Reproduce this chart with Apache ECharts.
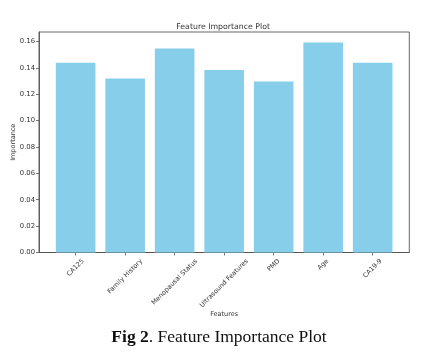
<!DOCTYPE html>
<html>
<head>
<meta charset="utf-8">
<script src="https://cdn.jsdelivr.net/npm/echarts@6/dist/echarts.min.js"></script>
<style>
html,body{margin:0;padding:0;background:#fff;}
#c{width:428px;height:363px;}
</style>
</head>
<body>
<div id="c"></div>
<script>
const categories = ['CA125', 'Family History', 'Menopausal Status', 'Ultrasound Features', 'PMD', 'Age', 'CA19-9'];
const importance = [0.1439, 0.1320, 0.1547, 0.1383, 0.1297, 0.1592, 0.1439];
const yTicks = [0, 0.02, 0.04, 0.06, 0.08, 0.10, 0.12, 0.14, 0.16];
const titleText = 'Feature Importance Plot';
const xName = 'Features';
const yName = 'Importance';
const captionBold = 'Fig 2';
const captionRest = '. Feature Importance Plot';

const W = 428, H = 363;
const gL = 39, gR = 18.7, gT = 32, gB = 110.5;
const xMin = -0.74, xMax = categories.length - 1 + 0.74;
const gridW = W - gL - gR;
const pxPerUnit = gridW / (xMax - xMin);
const barW = 0.8 * pxPerUnit;

const labelFont = 6.5;
const tickFont = 6.8;
const fontFam = '"DejaVu Sans"';
const cv = document.createElement('canvas').getContext('2d');
cv.font = labelFont + 'px ' + fontFam;
const rich = {};
categories.forEach((c, i) => {
  const w = cv.measureText(c).width;
  const h = 7.5;
  const p = 0.5 * (w + h);
  rich['r' + i] = {
    fontSize: labelFont, fontFamily: fontFam, color: '#333',
    padding: [p, p, 0, 0]
  };
});

const chart = echarts.init(document.getElementById('c'), null, {renderer: 'canvas'});
chart.setOption({
  backgroundColor: '#fff',
  animation: false,
  title: [
    {
      text: titleText, left: gL + gridW / 2 - 6, top: 18, textAlign: 'center',
      textStyle: {fontFamily: fontFam, fontSize: 7.8, fontWeight: 'normal', color: '#333'}
    },
    {
      text: '{b|' + captionBold + '}{n|' + captionRest + '}', left: 214, top: 323, textAlign: 'center',
      textStyle: {
        rich: {
          b: {fontFamily: '"Liberation Serif"', fontSize: 17.5, fontWeight: 'bold', color: '#111'},
          n: {fontFamily: '"Liberation Serif"', fontSize: 17.5, fontWeight: 'normal', color: '#111'}
        }
      }
    }
  ],
  grid: {
    left: gL, right: gR, top: gT, bottom: gB,
    outerBoundsMode: 'none', containLabel: false,
    show: true, borderColor: '#555', borderWidth: 0.9, backgroundColor: 'transparent'
  },
  xAxis: {
    type: 'value', min: xMin, max: xMax,
    name: xName, nameLocation: 'middle', nameGap: 58, nameMoveOverlap: false,
    nameTextStyle: {fontFamily: fontFam, fontSize: labelFont, color: '#333'},
    axisLine: {show: true, onZero: false, lineStyle: {color: '#555', width: 0.9}},
    axisTick: {show: true, length: 3, lineStyle: {color: '#555', width: 0.8},
      customValues: categories.map((c, i) => i)},
    axisLabel: {
      customValues: categories.map((c, i) => i),
      rotate: 45, margin: 5, align: 'center', verticalAlign: 'middle',
      formatter: v => { const i = Math.round(v); return '{r' + i + '|' + categories[i] + '}'; },
      rich: rich, fontSize: labelFont, fontFamily: fontFam, color: '#333', hideOverlap: false
    },
    splitLine: {show: false}
  },
  yAxis: {
    type: 'value', min: 0, max: 0.1672,
    name: yName, nameLocation: 'middle', nameGap: 22, nameRotate: 90, nameMoveOverlap: false,
    nameTextStyle: {fontFamily: fontFam, fontSize: labelFont, color: '#333'},
    axisLine: {show: true, onZero: false, lineStyle: {color: '#555', width: 0.9}},
    axisTick: {show: true, length: 3, lineStyle: {color: '#555', width: 0.8}, customValues: yTicks},
    axisLabel: {
      customValues: yTicks, margin: 4,
      formatter: v => v.toFixed(2),
      fontSize: tickFont, fontFamily: fontFam, color: '#333'
    },
    splitLine: {show: false}
  },
  series: [{
    type: 'bar',
    barWidth: barW,
    data: importance.map((v, i) => [i, v]),
    itemStyle: {color: '#87CEEB'}
  }]
});
</script>
</body>
</html>
